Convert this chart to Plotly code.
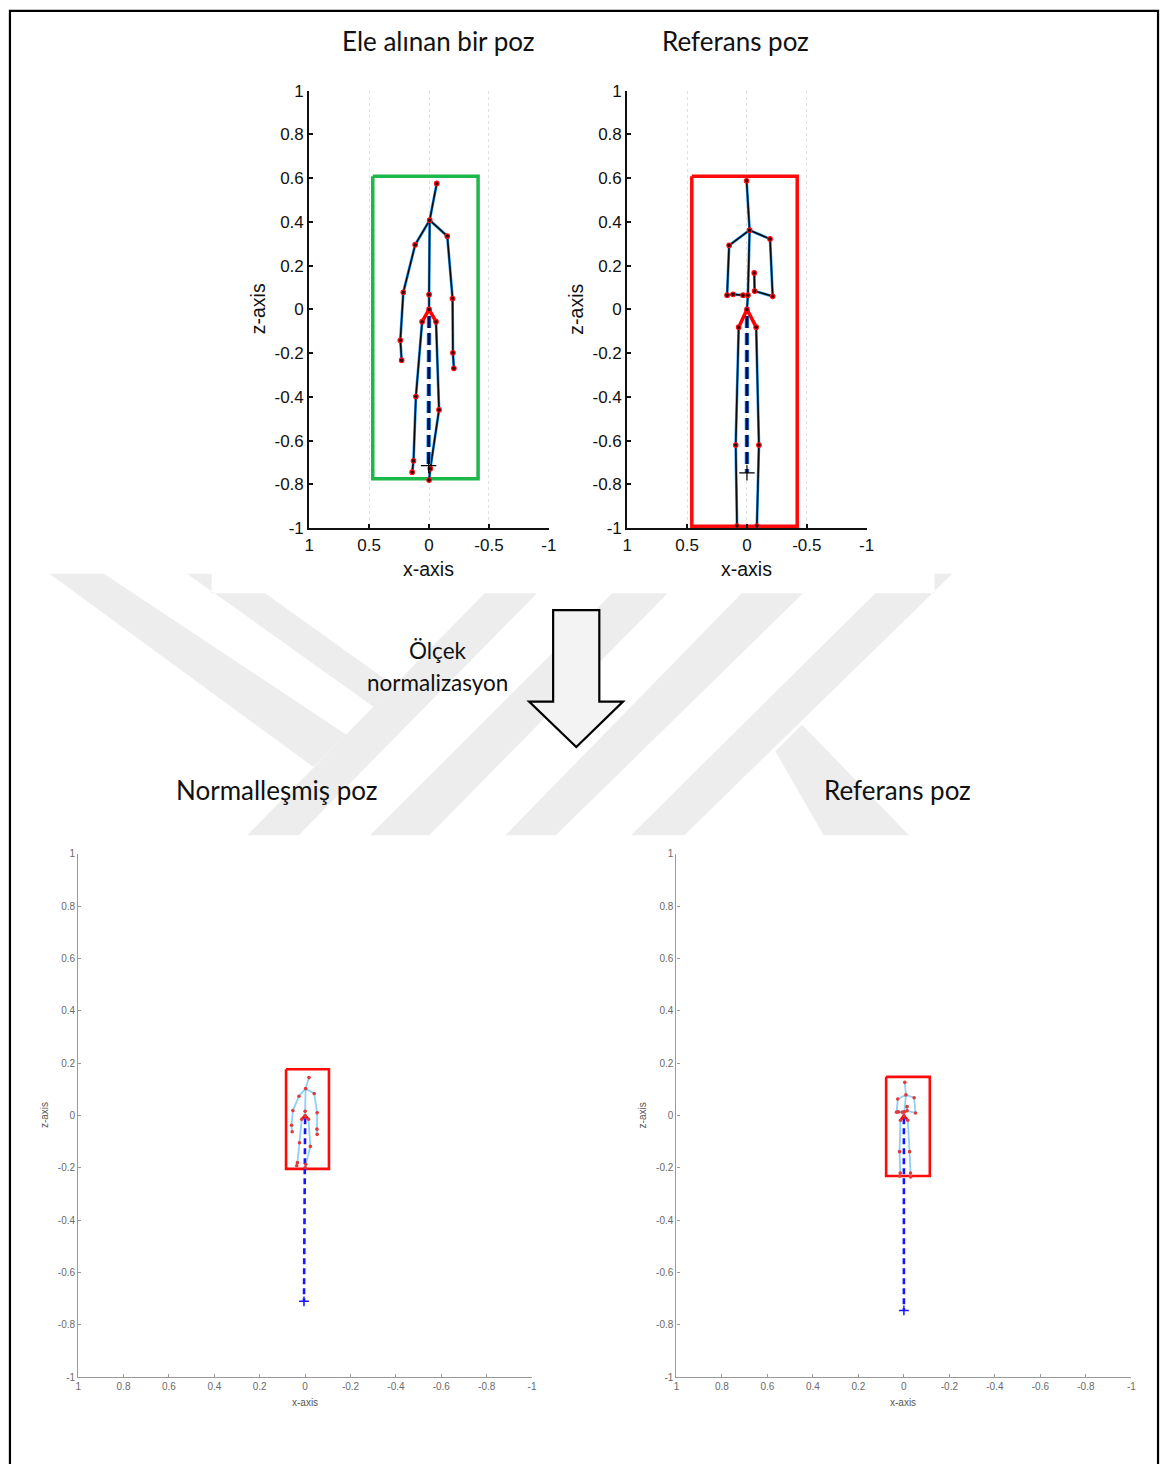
import plotly.graph_objects as go

W, H = 1169, 1474

# ---------------- data ----------------
# Kinect joint order
JOINTS = ["HipCenter", "Spine", "ShoulderCenter", "Head",
          "ShoulderL", "ElbowL", "WristL", "HandL",
          "ShoulderR", "ElbowR", "WristR", "HandR",
          "HipL", "KneeL", "AnkleL", "FootL",
          "HipR", "KneeR", "AnkleR", "FootR"]
BONES = [(0, 1), (1, 2), (2, 3), (2, 4), (4, 5), (5, 6), (6, 7),
         (2, 8), (8, 9), (9, 10), (10, 11),
         (12, 13), (13, 14), (14, 15), (16, 17), (17, 18), (18, 19)]
HIP_BONES = [(12, 0), (0, 16)]

# "Ele alınan bir poz" (captured pose)
CAP_X = [0.0, 0.0, -0.005, -0.064, 0.116, 0.215, 0.24, 0.229, -0.152, -0.196, -0.199, -0.207,
         0.058, 0.11, 0.13, 0.141, -0.058, -0.083, -0.01, 0.0]
CAP_Z = [0.0, 0.068, 0.408, 0.576, 0.296, 0.078, -0.141, -0.232, 0.335, 0.05, -0.198, -0.269,
         -0.056, -0.398, -0.692, -0.744, -0.056, -0.459, -0.728, -0.78]
CAP_VEC_X = [0.0, 0.004]
CAP_VEC_Z = [-0.03, -0.714]
CAP_BOX_X = [0.47, -0.409]
CAP_BOX_Z = [0.609, -0.774]

# "Referans poz" (reference pose)
REF_X = [0.0, -0.008, -0.022, 0.003, 0.149, 0.166, 0.116, 0.033, -0.193, -0.215, -0.064, -0.061,
         0.069, 0.094, 0.083, 0.085, -0.077, -0.1, -0.083, -0.09]
REF_Z = [0.0, 0.065, 0.362, 0.588, 0.293, 0.065, 0.069, 0.065, 0.322, 0.06, 0.084, 0.167,
         -0.081, -0.62, -0.99, -1.06, -0.081, -0.62, -0.99, -1.06]
REF_VEC_X = [0.0, 0.0]
REF_VEC_Z = [-0.03, -0.747]
REF_BOX_X = [0.461, -0.42]
REF_BOX_Z = [0.609, -0.991]

# "Normalleşmiş poz" (normalized captured pose)
NRM_X = [0.0, 0.0, -0.002, -0.017, 0.027, 0.054, 0.06, 0.057, -0.04, -0.053, -0.052, -0.053,
         0.015, 0.025, 0.034, 0.037, -0.015, -0.023, -0.003, 0.0]
NRM_Z = [0.0, 0.016, 0.103, 0.145, 0.074, 0.019, -0.037, -0.062, 0.084, 0.011, -0.052, -0.072,
         -0.014, -0.104, -0.18, -0.192, -0.014, -0.118, -0.186, -0.199]
NRM_VEC_X = [0.0, 0.005]
NRM_VEC_Z = [-0.01, -0.71]
NRM_BOX_X = [0.084, -0.105]
NRM_BOX_Z = [0.177, -0.204]

# bottom "Referans poz" (reference pose, normalized view)
RFN_X = [0.0, -0.002, -0.009, -0.004, 0.027, 0.032, 0.024, 0.007, -0.045, -0.051, -0.014, -0.014,
         0.015, 0.019, 0.016, 0.018, -0.017, -0.025, -0.029, -0.03]
RFN_Z = [0.0, 0.014, 0.079, 0.127, 0.063, 0.013, 0.014, 0.013, 0.068, 0.01, 0.018, 0.034,
         -0.018, -0.138, -0.22, -0.232, -0.018, -0.138, -0.22, -0.235]
RFN_VEC_X = [0.0, 0.0]
RFN_VEC_Z = [-0.01, -0.745]
RFN_BOX_X = [0.078, -0.114]
RFN_BOX_Z = [0.148, -0.231]

TOP_Z_TICKS = [1, 0.8, 0.6, 0.4, 0.2, 0, -0.2, -0.4, -0.6, -0.8, -1]
TOP_Z_LABELS = ["1", "0.8", "0.6", "0.4", "0.2", "0", "-0.2", "-0.4", "-0.6", "-0.8", "-1"]
TOP_X_TICKS = [1, 0.5, 0, -0.5, -1]
TOP_X_LABELS = ["1", "0.5", "0", "-0.5", "-1"]
BOT_TICKS = [1, 0.8, 0.6, 0.4, 0.2, 0, -0.2, -0.4, -0.6, -0.8, -1]
BOT_LABELS = ["1", "0.8", "0.6", "0.4", "0.2", "0", "-0.2", "-0.4", "-0.6", "-0.8", "-1"]

TITLES = ["Ele alınan bir poz", "Referans poz", "Normalleşmiş poz", "Referans poz"]
ARROW_TEXT = ["Ölçek", "normalizasyon"]


def pxx(x):
    return x / W


def pyy(y):
    return 1 - y / H


def bone_xy(xs, zs, bones):
    bx, bz = [], []
    for a, b in bones:
        bx += [xs[a], xs[b], None]
        bz += [zs[a], zs[b], None]
    return bx, bz


def box_xy(bx, bz):
    return [bx[0], bx[1], bx[1], bx[0], bx[0]], [bz[0], bz[0], bz[1], bz[1], bz[0]]


fig = go.Figure()


def add_panel(n, xs, zs, vx, vz, boxx, boxz, boxcolor, top):
    xa, ya = ("x" if n == 1 else "x%d" % n), ("y" if n == 1 else "y%d" % n)
    rx, rz = box_xy(boxx, boxz)
    fig.add_trace(go.Scatter(x=rx, y=rz, mode="lines", xaxis=xa, yaxis=ya,
                             line=dict(color=boxcolor, width=3.5 if top else 2.6)))
    bx, bz = bone_xy(xs, zs, BONES)
    if top:
        fig.add_trace(go.Scatter(x=bx, y=bz, mode="lines", xaxis=xa, yaxis=ya,
                                 line=dict(color="#2a9df4", width=2.8)))
        fig.add_trace(go.Scatter(x=bx, y=bz, mode="lines", xaxis=xa, yaxis=ya,
                                 line=dict(color="#0a0a0a", width=1.6)))
        fig.add_trace(go.Scatter(x=vx, y=vz, mode="lines", xaxis=xa, yaxis=ya,
                                 line=dict(color="#2a9df4", width=4.5, dash="12px,5px")))
        fig.add_trace(go.Scatter(x=vx, y=vz, mode="lines", xaxis=xa, yaxis=ya,
                                 line=dict(color="#0b0b55", width=3, dash="12px,5px")))
    else:
        fig.add_trace(go.Scatter(x=bx, y=bz, mode="lines", xaxis=xa, yaxis=ya,
                                 line=dict(color="#8fd0f7", width=1.8)))
        fig.add_trace(go.Scatter(x=vx, y=vz, mode="lines", xaxis=xa, yaxis=ya,
                                 line=dict(color="#1515ff", width=2.6, dash="6px,4px")))
    hx, hz = bone_xy(xs, zs, HIP_BONES)
    fig.add_trace(go.Scatter(x=hx, y=hz, mode="lines", xaxis=xa, yaxis=ya,
                             line=dict(color="#ff0000", width=3.5 if top else 2.6)))
    if top:
        fig.add_trace(go.Scatter(x=xs, y=zs, mode="markers", xaxis=xa, yaxis=ya,
                                 marker=dict(color="#400000", size=4.6,
                                             line=dict(color="#ff1010", width=1.1))))
        fig.add_trace(go.Scatter(x=[vx[1]], y=[vz[1]], mode="markers", xaxis=xa, yaxis=ya,
                                 marker=dict(symbol="cross-thin", size=11,
                                             line=dict(color="#000000", width=1.2))))
    else:
        fig.add_trace(go.Scatter(x=xs, y=zs, mode="markers", xaxis=xa, yaxis=ya,
                                 marker=dict(color="#e03a3a", size=3.6)))
        fig.add_trace(go.Scatter(x=[vx[1]], y=[vz[1]], mode="markers", xaxis=xa, yaxis=ya,
                                 marker=dict(symbol="cross-thin", size=7,
                                             line=dict(color="#1515ff", width=1.5))))


add_panel(1, CAP_X, CAP_Z, CAP_VEC_X, CAP_VEC_Z, CAP_BOX_X, CAP_BOX_Z, "#1db84a", True)
add_panel(2, REF_X, REF_Z, REF_VEC_X, REF_VEC_Z, REF_BOX_X, REF_BOX_Z, "#ff0a0a", True)
add_panel(3, NRM_X, NRM_Z, NRM_VEC_X, NRM_VEC_Z, NRM_BOX_X, NRM_BOX_Z, "#ff0a0a", False)
add_panel(4, RFN_X, RFN_Z, RFN_VEC_X, RFN_VEC_Z, RFN_BOX_X, RFN_BOX_Z, "#ff0a0a", False)

top_font = dict(family="Liberation Sans, Arial", size=17, color="#111111")
bot_font = dict(family="Liberation Sans, Arial", size=10, color="#6a6a6a")


def top_x(dom):
    return dict(domain=dom, range=[1, -1], tickvals=TOP_X_TICKS, ticktext=TOP_X_LABELS,
                showline=True, linecolor="#111111", linewidth=2.2, ticks="inside",
                ticklen=4, tickwidth=1.5, tickcolor="#111111", tickfont=top_font,
                showgrid=True, gridcolor="#e2e2e2", griddash="dot", gridwidth=1,
                zeroline=False, fixedrange=True)


def top_y(dom, anchor):
    return dict(domain=dom, range=[-1, 1], tickvals=TOP_Z_TICKS, ticktext=TOP_Z_LABELS,
                showline=True, linecolor="#111111", linewidth=2.2, ticks="inside",
                ticklen=4, tickwidth=1.5, tickcolor="#111111", tickfont=top_font,
                showgrid=False, zeroline=False, anchor=anchor, fixedrange=True)


def bot_x(dom, anchor):
    return dict(domain=dom, range=[1, -1], tickvals=BOT_TICKS, ticktext=BOT_LABELS,
                showline=True, linecolor="#9a9a9a", linewidth=1.2, ticks="inside",
                ticklen=3, tickwidth=1, tickcolor="#9a9a9a", tickfont=bot_font,
                showgrid=False, zeroline=False, anchor=anchor, fixedrange=True)


def bot_y(dom, anchor):
    return dict(domain=dom, range=[-1, 1], tickvals=BOT_TICKS, ticktext=BOT_LABELS,
                showline=True, linecolor="#9a9a9a", linewidth=1.2, ticks="inside",
                ticklen=3, tickwidth=1, tickcolor="#9a9a9a", tickfont=bot_font,
                showgrid=False, zeroline=False, anchor=anchor, fixedrange=True)


top_ydom = [pyy(526), pyy(82.7)]
bot_ydom = [pyy(1386), pyy(856)]

xa1 = top_x([pxx(307.7), pxx(550)]); xa1["anchor"] = "y"
xa2 = top_x([pxx(629.3), pxx(871.3)]); xa2["anchor"] = "y2"

# watermark polygons (pixel coordinates)
WM_POLYS = [
    [(45, 572), (100, 572), (345, 735), (312, 768)],
    [(184, 572), (209, 572), (209, 592), (263, 592), (393, 685), (373, 707)],
    [(485, 592), (538, 592), (297, 837), (245, 837)],
    [(614, 592), (670, 592), (429, 837), (369, 837)],
    [(745, 592), (807, 592), (557, 837), (506, 837)],
    [(880, 592), (940, 592), (940, 572), (958, 572), (687, 837), (633, 837)],
    [(779, 752), (806, 725), (914, 837), (828, 837)],
]
ARROW_PTS = [(554.3, 609), (601, 609), (601, 701.7), (625, 701.7), (577.7, 747.7),
             (530, 701.7), (554.3, 701.7)]


def path_of(pts, close=True):
    s = "M %f %f " % (pxx(pts[0][0]), pyy(pts[0][1]))
    for x, y in pts[1:]:
        s += "L %f %f " % (pxx(x), pyy(y))
    return s + ("Z" if close else "")


shapes = []
for poly in WM_POLYS:
    shapes.append(dict(type="path", xref="paper", yref="paper", path=path_of(poly),
                       fillcolor="#ededed", line=dict(width=0), layer="below"))
shapes.append(dict(type="path", xref="paper", yref="paper", path=path_of(ARROW_PTS),
                   fillcolor="#f3f3f3", line=dict(color="#000000", width=2.2)))
# outer frame (left, top, right edges)
shapes.append(dict(type="path", xref="paper", yref="paper",
                   path=path_of([(5, 1474), (5, 2), (1166, 2), (1166, 1474)], close=False),
                   line=dict(color="#000000", width=2.2)))

title_font = dict(family="Lato, Carlito, sans-serif", size=26, color="#111111")
lab_font = dict(family="Liberation Sans, Arial", size=19.5, color="#111111")
small_font = dict(family="Liberation Sans, Arial", size=10, color="#555555")
ann = [
    dict(text=TITLES[0], x=pxx(438), y=pyy(32), font=title_font),
    dict(text=TITLES[1], x=pxx(739), y=pyy(32), font=title_font),
    dict(text=TITLES[2], x=pxx(275), y=pyy(791), font=title_font),
    dict(text=TITLES[3], x=pxx(903), y=pyy(791), font=title_font),
    dict(text=ARROW_TEXT[0], x=pxx(438), y=pyy(650), font=dict(family="Lato, sans-serif", size=22.5, color="#111111")),
    dict(text=ARROW_TEXT[1], x=pxx(437), y=pyy(682), font=dict(family="Lato, sans-serif", size=22.5, color="#111111")),
    dict(text="x-axis", x=pxx(428), y=pyy(567), font=lab_font),
    dict(text="x-axis", x=pxx(750), y=pyy(567), font=lab_font),
    dict(text="z-axis", x=pxx(256), y=pyy(304), textangle=-90, font=lab_font),
    dict(text="z-axis", x=pxx(578), y=pyy(304), textangle=-90, font=lab_font),
    dict(text="x-axis", x=pxx(303), y=pyy(1412), font=small_font),
    dict(text="x-axis", x=pxx(908), y=pyy(1412), font=small_font),
    dict(text="z-axis", x=pxx(40), y=pyy(1121), textangle=-90, font=small_font),
    dict(text="z-axis", x=pxx(645), y=pyy(1121), textangle=-90, font=small_font),
]
for a in ann:
    a.update(xref="paper", yref="paper", showarrow=False, xanchor="center", yanchor="middle")

fig.update_layout(
    width=W, height=H, margin=dict(l=0, r=0, t=0, b=0),
    paper_bgcolor="white", plot_bgcolor="rgba(0,0,0,0)",
    showlegend=False,
    xaxis=xa1, yaxis=top_y(top_ydom, "x"),
    xaxis2=xa2, yaxis2=top_y(top_ydom, "x2"),
    xaxis3=bot_x([pxx(74), pxx(533)], "y3"), yaxis3=bot_y(bot_ydom, "x3"),
    xaxis4=bot_x([pxx(679), pxx(1139)], "y4"), yaxis4=bot_y(bot_ydom, "x4"),
    shapes=shapes, annotations=ann,
)

fig.write_html("out.html", config={"displayModeBar": False},
               post_script="document.body.style.margin='0px';")
